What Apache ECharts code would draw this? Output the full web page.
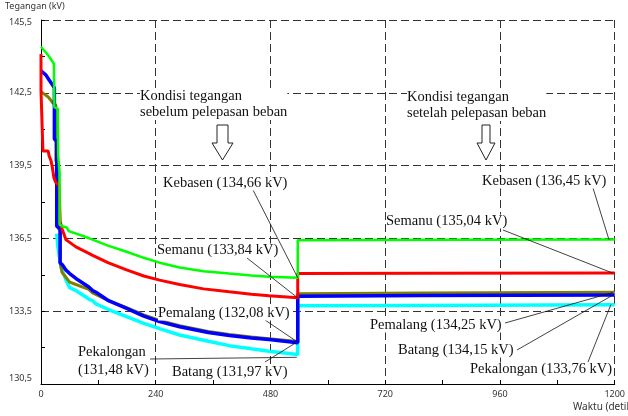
<!DOCTYPE html>
<html><head><meta charset="utf-8">
<script src="https://cdn.jsdelivr.net/npm/echarts@6/dist/echarts.min.js"></script>
<style>html,body{margin:0;padding:0;background:#fff}#c{width:628px;height:416px}</style>
</head><body><div id="c"></div>
<script>
// ---- data (time in s, voltage in kV) ----
const xMin = 0, xMax = 1200, xStep = 240;
const yMin = 130.5, yMax = 145.5, yStep = 3;

const kebasen = [[0,144.4],[15,144.05],[27,143.7],[28,141.9],[35,141.85],[36,139.9],[39,139.2],[39,137.1],[44,137.0],[54,136.95],[58,136.8],[88,136.6],[108,136.45],[140,136.2],[179,135.95],[215,135.7],[248,135.5],[290,135.3],[340,135.15],[394,135.05],[440,134.97],[477,134.92],[537,134.88],[537,136.42],[700,136.43],[900,136.44],[1200,136.45]];
const semanu = [[0,144.1],[0,142.6],[4,142.6],[4,140.1],[15,140.1],[17,139.9],[21,139.7],[24,139.4],[27,139.0],[31,138.8],[38,138.7],[40,137.2],[44,136.9],[52,136.45],[73,136.15],[100,135.88],[108,135.8],[140,135.5],[179,135.2],[215,134.95],[248,134.78],[290,134.6],[340,134.42],[394,134.3],[440,134.2],[477,134.14],[537,134.05],[537,135.05],[800,135.06],[1200,135.07]];
const batang = [[0,143.4],[10,143.24],[17,143.03],[25,142.8],[28,142.7],[28,140.6],[33,140.5],[33,137.0],[40,136.9],[40,135.5],[45,135.4],[52,135.2],[60,135.05],[73,134.85],[100,134.5],[108,134.35],[115,134.28],[140,133.95],[179,133.62],[215,133.3],[248,133.07],[290,132.86],[350,132.62],[394,132.5],[440,132.4],[477,132.33],[537,132.2],[537,134.12],[800,134.15],[1200,134.17]];
const pemalang = [[0,142.55],[15,142.33],[25,142.08],[31,142.0],[31,139.7],[34,139.6],[34,137.0],[40,136.8],[40,135.5],[44,135.1],[52,134.9],[60,134.7],[73,134.6],[100,134.4],[108,134.25],[140,133.95],[179,133.65],[215,133.35],[248,133.12],[290,132.9],[350,132.66],[394,132.54],[440,132.44],[477,132.37],[537,132.25],[537,134.22],[800,134.25],[1200,134.28]];
const pekalongan = [[33,136.7],[35,136.2],[38,135.8],[42,135.3],[44,135.2],[52,134.8],[60,134.47],[73,134.35],[100,134.0],[108,133.93],[115,133.8],[140,133.58],[179,133.28],[215,133.0],[248,132.78],[290,132.52],[350,132.26],[394,132.08],[440,131.95],[477,131.85],[537,131.72],[537,133.72],[800,133.74],[1200,133.77]];

// annotation texts and the data points their leader lines point to
const labels = [
  {text:'Kebasen (134,66 kV)', left:163, top:176, from:[253,190], to:[537,134.88]},
  {text:'Semanu (133,84 kV)', left:157, top:243, from:[247,258], to:[537,134.05]},
  {text:'Pemalang (132,08 kV)', left:158, top:306, from:[265,320], to:[535,132.25]},
  {text:'Batang (131,97 kV)', left:172, top:365, from:[265,362], to:[533,132.2]},
  {text:'Pekalongan\n(131,48 kV)', left:78, top:343, lh:18, from:[150,359], to:[535,131.6]},
  {text:'Kebasen (136,45 kV)', left:482, top:174, from:[593,188], to:[1188,136.45]},
  {text:'Semanu (135,04 kV)', left:386, top:214, from:[503,230], to:[1196,135.07]},
  {text:'Pemalang (134,25 kV)', left:370, top:318, from:[505,323], to:[1196,134.27]},
  {text:'Batang (134,15 kV)', left:398, top:343, from:[517,350], to:[1196,134.16]},
  {text:'Pekalongan (133,76 kV)', left:470, top:362, from:[588,362], to:[1192,133.77]}
];

const chart = echarts.init(document.getElementById('c'), null, {renderer:'canvas'});
const dash = {color:'#333', width:1, type:[8,4]};
function mk(name, data, color, w, z){
  return {name, type:'line', data, showSymbol:false, symbol:'none', z,
    lineStyle:{color, width:w}, itemStyle:{color}, animation:false, silent:true};
}
chart.setOption({
  animation:false,
  backgroundColor:'#fff',
  grid:{left:41, right:11, top:20, bottom:32, containLabel:false},
  xAxis:{type:'value', min:xMin, max:xMax, interval:xStep,
    axisLine:{show:true, onZero:false, lineStyle:{color:'#000', width:1}},
    axisTick:{show:true, inside:true, length:4, lineStyle:{color:'#000'}},
    minorTick:{show:true, splitNumber:2, length:4, lineStyle:{color:'#000'}},
    axisLabel:{fontFamily:'Noto Sans', fontSize:9, color:'#333', margin:6,
      formatter:v=>String(v)},
    splitLine:{show:true, lineStyle:dash}},
  yAxis:{type:'value', min:yMin, max:yMax, interval:yStep,
    axisLine:{show:true, onZero:false, lineStyle:{color:'#000', width:1}},
    axisTick:{show:true, inside:true, length:4, lineStyle:{color:'#000'}},
    minorTick:{show:true, splitNumber:2, length:4, lineStyle:{color:'#000'}},
    axisLabel:{fontFamily:'Noto Sans', fontSize:9, color:'#333', margin:9,
      formatter:v=>{
        const s = v.toFixed(1).replace('.',',');
        if (Math.abs(v-yMax)<1e-6) return '{t|'+s+'}';
        if (Math.abs(v-yMin)<1e-6) return '{b|'+s+'}';
        return s;
      },
      rich:{t:{padding:[5,0,0,0], fontFamily:'Noto Sans', fontSize:9, color:'#333'},
            b:{padding:[0,0,12,0], fontFamily:'Noto Sans', fontSize:9, color:'#333'}}},
    splitLine:{show:true, lineStyle:dash}},
  series:[
    mk('Pekalongan', pekalongan, '#00ffff', 3.5, 2),
    mk('Pemalang', pemalang, '#808000', 3, 3),
    mk('Batang', batang, '#0000ff', 3.5, 4),
    mk('Semanu', semanu, '#ff0000', 3, 5),
    mk('Kebasen', kebasen, '#00ff00', 2.5, 6)
  ]
});

const serif = '14.5px "Liberation Serif"';
const g = [];
labels.forEach(l=>{
  const p = chart.convertToPixel({gridIndex:0}, l.to);
  g.push({type:'line', z:50, silent:true, shape:{x1:l.from[0], y1:l.from[1], x2:p[0], y2:p[1]},
    style:{stroke:'#111', lineWidth:0.8}});
});
labels.forEach(l=>{
  g.push({type:'text', z:60, left:l.left, top:l.top, silent:true,
    style:{text:l.text, font:serif, fill:'#111', lineHeight:l.lh||14, backgroundColor:'#fff'}});
});
g.push({type:'text', z:60, left:140, top:88, silent:true,
  style:{text:'Kondisi tegangan\nsebelum pelepasan beban', font:serif, fill:'#111', lineHeight:16, backgroundColor:'#fff'}});
g.push({type:'text', z:60, left:407, top:89, silent:true,
  style:{text:'Kondisi tegangan\nsetelah pelepasan beban', font:serif, fill:'#111', lineHeight:16, backgroundColor:'#fff'}});
g.push({type:'polygon', z:60, silent:true, shape:{points:[[217,125],[228,125],[228,143],[233,143],[222.5,160],[212,143],[217,143]]},
  style:{fill:'#fff', stroke:'#222', lineWidth:1}});
g.push({type:'polygon', z:60, silent:true, shape:{points:[[482,125],[490,125],[490,143],[495,143],[486,160],[477,143],[482,143]]},
  style:{fill:'#fff', stroke:'#222', lineWidth:1}});
g.push({type:'text', z:60, left:5, top:2, silent:true,
  style:{text:'Tegangan (kV)', font:'9px "Noto Sans"', fill:'#333'}});
g.push({type:'text', z:60, left:573, top:402, silent:true,
  style:{text:'Waktu (detik)', font:'10px "Noto Sans"', fill:'#333'}});
chart.setOption({graphic:g});
</script></body></html>
